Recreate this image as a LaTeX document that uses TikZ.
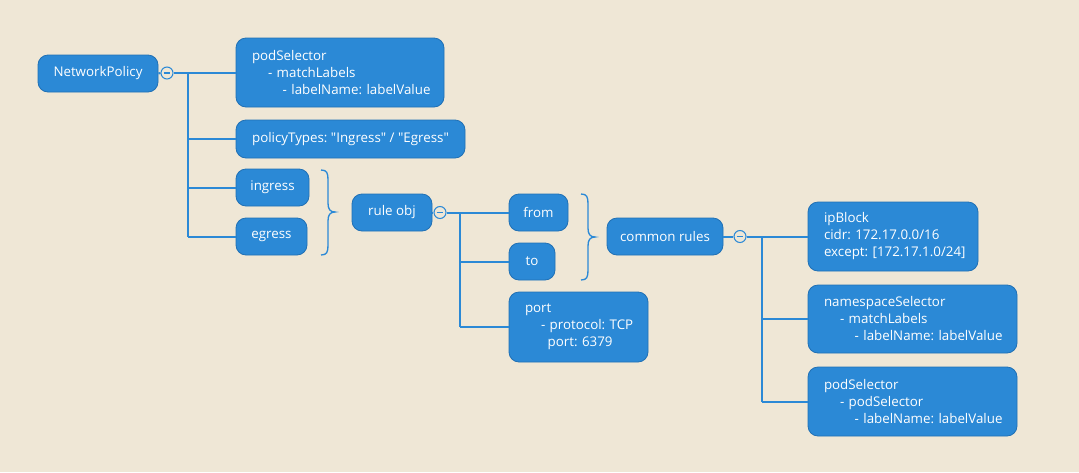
\documentclass[tikz,border=0pt]{standalone}
\usepackage{fontspec}
\setmainfont{Open Sans}
\frenchspacing
\definecolor{bgc}{RGB}{239,231,214}
\definecolor{boxc}{RGB}{43,137,214}
\definecolor{edgec}{RGB}{32,112,180}
\newcommand{\dq}{\XeTeXglyph\XeTeXglyphindex "quotedbl"\relax}
\newcommand{\txl}[2]{\mbox{\hspace*{#1}#2}}
\begin{document}
\begin{tikzpicture}[x=0.75pt,y=-0.75pt,
  bx/.style 2 args={rectangle, rounded corners=7.5pt, fill=boxc, draw=edgec, line width=0.6pt,
     text=white, minimum width=#1*0.75pt, minimum height=#2*0.75pt, inner sep=0pt,
     font=\fontsize{10}{12.75}\selectfont},
  mbx/.style 2 args={bx={#1}{#2}, text width=#1*0.75pt-24pt, inner xsep=12pt, align=left},
  tog/.style={circle, draw=boxc, fill=bgc, line width=0.8pt, minimum size=9pt, inner sep=0pt,
     path picture={\draw[boxc, line width=0.8pt] ([xshift=2pt]path picture bounding box.west) -- ([xshift=-2pt]path picture bounding box.east);}},
  conn/.style={draw=boxc, line width=1.5pt},
  brc/.style={draw=boxc, line width=1pt}]
\useasboundingbox (0,0) rectangle (1079,472);
\fill[bgc] (0,0) rectangle (1079,472);

% nodes
\node[bx={120}{37}] (np) at (98,73.5) {NetworkPolicy};
\node[mbx={208}{69}] (ps1) at (340,72.5) {\txl{0pt}{podSelector}\\\txl{12pt}{- matchLabels}\\\txl{23pt}{- labelName: labelValue}};
\node[bx={229}{38}] (pt) at (350.5,139) {policyTypes: \dq Ingress\dq{} / \dq Egress\dq};
\node[bx={73}{37}] (ing) at (272.5,187.5) {ingress};
\node[bx={71}{37}] (eg) at (271.5,236.5) {egress};
\node[bx={80}{37}] (ro) at (392,212.5) {rule obj};
\node[bx={59}{37}] (fr) at (538.5,212.5) {from};
\node[bx={46}{37}] (to) at (532,261.5) {to};
\node[mbx={139}{70}] (po) at (578.5,327) {\txl{0pt}{port}\\\txl{12pt}{- protocol: TCP}\\\txl{17pt}{port: 6379}};
\node[bx={116}{37}] (cr) at (665,236.5) {common rules};
\node[mbx={170}{69}] (ip) at (893,236.5) {\txl{0pt}{ipBlock}\\\txl{0pt}{cidr: 172.17.0.0/16}\\\txl{0pt}{except: [172.17.1.0/24]}};
\node[mbx={209}{68}] (ns) at (912.5,319) {\txl{0pt}{namespaceSelector}\\\txl{12pt}{- matchLabels}\\\txl{23pt}{- labelName: labelValue}};
\node[mbx={209}{69}] (ps2) at (912.5,401.5) {\txl{0pt}{podSelector}\\\txl{12pt}{- podSelector}\\\txl{23pt}{- labelName: labelValue}};

% toggles
\node[tog] (c1) at (167,73) {};
\node[tog] (c2) at (440,212.5) {};
\node[tog] (c3) at (740,236.5) {};

% trunk coordinates
\coordinate (t1) at (188,73);
\coordinate (t2) at (460,212.5);
\coordinate (t3) at (762,236.5);

% connectors
\draw[conn] (np.east) -- (c1.west);
\draw[conn] (c1.east) -- (ps1.west |- c1.east);
\draw[conn] (t1) -- (t1 |- eg.west);
\draw[conn] (t1 |- pt.west) -- (pt.west);
\draw[conn] (t1 |- ing.west) -- (ing.west);
\draw[conn] (t1 |- eg.west) -- (eg.west);

\draw[conn] (ro.east) -- (c2.west);
\draw[conn] (c2.east) -- (fr.west);
\draw[conn] (t2) -- (t2 |- po.west);
\draw[conn] (t2 |- to.west) -- (to.west);
\draw[conn] (t2 |- po.west) -- (po.west);

\draw[conn] (cr.east) -- (c3.west);
\draw[conn] (c3.east) -- (ip.west);
\draw[conn] (t3) -- (t3 |- ps2.west);
\draw[conn] (t3 |- ns.west) -- (ns.west);
\draw[conn] (t3 |- ps2.west) -- (ps2.west);

% braces
\draw[brc] (321,170) .. controls (327,170) and (328,173) .. (328,180) -- (328,203)
   .. controls (328,209) and (330,212) .. (335,212)
   .. controls (330,212) and (328,215) .. (328,221) -- (328,245)
   .. controls (328,252) and (327,255) .. (321,255);
\draw[brc] (581,194) .. controls (587,194) and (588,197) .. (588,204) -- (588,228)
   .. controls (588,234) and (590,237) .. (595,237)
   .. controls (590,237) and (588,240) .. (588,246) -- (588,270)
   .. controls (588,277) and (587,280) .. (581,280);
\end{tikzpicture}
\end{document}
